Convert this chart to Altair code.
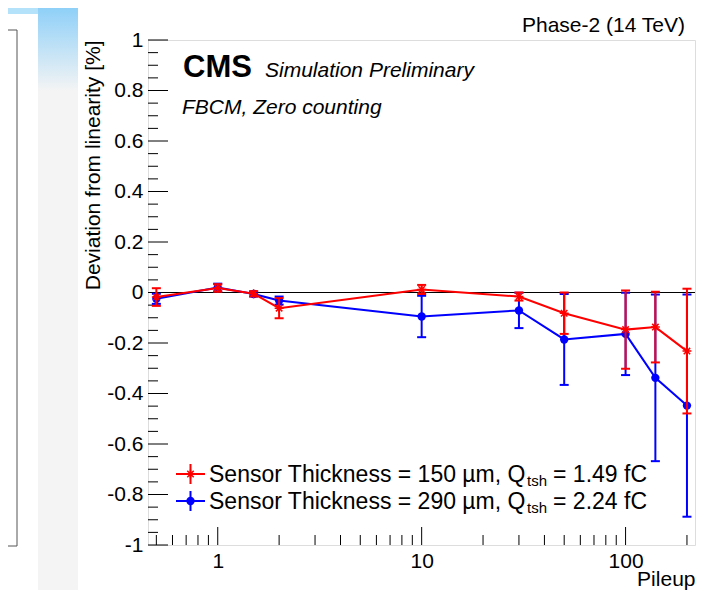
import altair as alt
import pandas as pd

# ---------------- data ----------------
pileup = [0.5, 1, 1.5, 2, 10, 30, 50, 100, 140, 200]
dev_150 = [-0.018, 0.018, -0.005, -0.062, 0.012, -0.016, -0.082, -0.147, -0.137, -0.232]
err_150 = [0.035, 0.015, 0.010, 0.040, 0.018, 0.016, 0.082, 0.155, 0.140, 0.247]
dev_290 = [-0.025, 0.020, -0.006, -0.032, -0.095, -0.071, -0.186, -0.164, -0.338, -0.448]
err_290 = [0.020, 0.015, 0.010, 0.016, 0.082, 0.070, 0.180, 0.163, 0.330, 0.440]

label_150 = "Sensor Thickness = 150 µm, Q"
label_290 = "Sensor Thickness = 290 µm, Q"
qval_150 = "= 1.49 fC"
qval_290 = "= 2.24 fC"

y_major = [-1, -0.8, -0.6, -0.4, -0.2, 0, 0.2, 0.4, 0.6, 0.8, 1]
y_minor = [-0.95, -0.9, -0.85, -0.75, -0.7, -0.65, -0.55, -0.5, -0.45, -0.35, -0.3, -0.25,
           -0.15, -0.1, -0.05, 0.05, 0.1, 0.15, 0.25, 0.3, 0.35, 0.45, 0.5, 0.55,
           0.65, 0.7, 0.75, 0.85, 0.9, 0.95]
x_major = [1, 10, 100]
x_minor = [0.5, 0.6, 0.7, 0.8, 0.9, 2, 3, 4, 5, 6, 7, 8, 9,
           20, 30, 40, 50, 60, 70, 80, 90, 200]

# ---------------- layout ----------------
W, H = 547, 505
FONT = "Liberation Sans"
RED = "#ff0000"
BLUE = "#0000ff"
STAR = "M-1,0L1,0M0,-1L0,1M-0.72,-0.72L0.72,0.72M-0.72,0.72L0.72,-0.72"

one = pd.DataFrame({"a": [0]})
xscale = alt.Scale(type="log", domain=[0.455, 219])
yscale = alt.Scale(domain=[-1, 1], nice=False)

xaxis = alt.Axis(values=x_major, labelExpr="'' + datum.value", ticks=False, tickSize=0,
                 domain=False, grid=False, labelFontSize=21, labelPadding=5,
                 labelColor="black", labelFont=FONT, labelFlush=False, labelOverlap=False,
                 title="Pileup", titleFont=FONT, titleFontSize=21, titleFontWeight="normal",
                 titleColor="black", titleAlign="right", titleBaseline="alphabetic",
                 titleX=W, titleY=40)
yaxis = alt.Axis(values=y_major, labelExpr="'' + datum.value", ticks=False, tickSize=0,
                 domain=False, grid=False, labelFontSize=21, labelPadding=5,
                 labelColor="black", labelFont=FONT, labelFlush=False, labelOverlap=False,
                 title="Deviation from linearity [%]", titleFont=FONT, titleFontSize=21,
                 titleFontWeight="normal", titleColor="black", titleAngle=-90,
                 titleAlign="right", titleBaseline="alphabetic", titleX=-49, titleY=0)


def X(field):
    return alt.X(field, type="quantitative", scale=xscale, axis=xaxis)


def Y(field):
    return alt.Y(field, type="quantitative", scale=yscale, axis=yaxis)


layers = []

# ---- slide background pieces (neighbouring panel / strip) ----
grad = alt.Gradient(gradient="linear", x1=0, y1=0, x2=0, y2=1,
                    stops=[alt.GradientStop(offset=0, color="#8fd0f8"),
                           alt.GradientStop(offset=0.14, color="#f4f4f4"),
                           alt.GradientStop(offset=1, color="#f4f4f4")])
layers.append(alt.Chart(one).mark_rect(fill=grad).encode(
    x=alt.value(-110), x2=alt.value(-70), y=alt.value(-32), y2=alt.value(560)))
layers.append(alt.Chart(one).mark_rect(color="#b5e2fb").encode(
    x=alt.value(-140), x2=alt.value(-110), y=alt.value(-32), y2=alt.value(-26)))
for (xa, xb, ya, yb) in [(-131, -131, -10, 506), (-140, -131, -10, -10), (-140, -131, 506, 506)]:
    layers.append(alt.Chart(one).mark_rule(color="#555555", strokeWidth=1).encode(
        x=alt.value(xa), x2=alt.value(xb), y=alt.value(ya), y2=alt.value(yb)))

# ---- frame ticks (inside, ROOT style) ----
layers.append(alt.Chart(pd.DataFrame({"v": y_major})).mark_rule(color="black", strokeWidth=1).encode(
    y=Y("v"), x=alt.value(0), x2=alt.value(20)))
layers.append(alt.Chart(pd.DataFrame({"v": y_minor})).mark_rule(color="black", strokeWidth=1).encode(
    y=Y("v"), x=alt.value(0), x2=alt.value(10)))
layers.append(alt.Chart(pd.DataFrame({"v": x_major})).mark_rule(color="black", strokeWidth=1).encode(
    x=X("v"), y=alt.value(H), y2=alt.value(H - 18)))
layers.append(alt.Chart(pd.DataFrame({"v": x_minor})).mark_rule(color="black", strokeWidth=1).encode(
    x=X("v"), y=alt.value(H), y2=alt.value(H - 10)))

# ---- zero line ----
layers.append(alt.Chart(pd.DataFrame({"v": [0]})).mark_rule(color="black", strokeWidth=1).encode(
    y=Y("v"), x=alt.value(0), x2=alt.value(W)))


def series(dev, err, color, shape, size, filled):
    df = pd.DataFrame({"pileup": pileup, "dev": dev, "err": err})
    df["lo"] = df["dev"] - df["err"]
    df["hi"] = df["dev"] + df["err"]
    base = alt.Chart(df)
    out = [
        base.mark_line(color=color, strokeWidth=2).encode(x=X("pileup"), y=Y("dev")),
        base.mark_rule(color=color, strokeWidth=2).encode(x=X("pileup"), y=Y("lo"), y2="hi"),
        base.mark_tick(color=color, orient="horizontal", size=9, thickness=2, opacity=1).encode(
            x=X("pileup"), y=Y("lo")),
        base.mark_tick(color=color, orient="horizontal", size=9, thickness=2, opacity=1).encode(
            x=X("pileup"), y=Y("hi")),
    ]
    if filled:
        out.append(base.mark_point(shape=shape, size=size, filled=True, color=color, opacity=1)
                   .encode(x=X("pileup"), y=Y("dev")))
    else:
        out.append(base.mark_point(shape=shape, size=size, filled=False, stroke=color,
                                   strokeWidth=1.5, opacity=1)
                   .encode(x=X("pileup"), y=Y("dev")))
    return out


layers += series(dev_290, err_290, BLUE, "circle", 70, True)
layers += series(dev_150, err_150, RED, STAR, 80, False)


# ---- texts ----
def text(s, x, y, size, align="left", weight="normal", style="normal", color="black"):
    return alt.Chart(one).mark_text(text=s, font=FONT, fontSize=size, align=align,
                                    baseline="alphabetic", fontWeight=weight,
                                    fontStyle=style, color=color).encode(
        x=alt.value(x), y=alt.value(y))


layers.append(text("Phase-2 (14 TeV)", 537, -8, 21, align="right"))
layers.append(text("CMS", 35, 37, 31, weight="bold"))
layers.append(text("Simulation Preliminary", 117, 37, 21, style="italic"))
layers.append(text("FBCM, Zero counting", 34, 74, 21, style="italic"))

# ---- legend ----
leg_rows = [(434, RED, STAR, False, label_150, qval_150),
            (461, BLUE, "circle", True, label_290, qval_290)]
for (yy, color, shape, filled, lab, qv) in leg_rows:
    layers.append(alt.Chart(one).mark_rule(color=color, strokeWidth=2).encode(
        x=alt.value(28), x2=alt.value(57), y=alt.value(yy), y2=alt.value(yy)))
    layers.append(alt.Chart(one).mark_rule(color=color, strokeWidth=2).encode(
        x=alt.value(42.5), x2=alt.value(42.5), y=alt.value(yy - 10), y2=alt.value(yy + 10)))
    if filled:
        layers.append(alt.Chart(one).mark_point(shape=shape, size=70, filled=True, color=color,
                                                opacity=1).encode(x=alt.value(42.5), y=alt.value(yy)))
    else:
        layers.append(alt.Chart(one).mark_point(shape=shape, size=80, filled=False, stroke=color,
                                                strokeWidth=1.5, opacity=1).encode(
            x=alt.value(42.5), y=alt.value(yy)))
    layers.append(text(lab, 61, yy + 8, 23))
    layers.append(text("tsh", 379, yy + 12, 15))
    layers.append(text(qv, 499, yy + 8, 23, align="right"))

chart = alt.layer(*layers).properties(
    width=W, height=H,
    autosize="none",
    padding={"left": 140, "top": 32, "right": 5, "bottom": 45},
    background="white",
).configure_view(stroke="black", strokeWidth=1).configure(font=FONT)

chart.save("out.html", embed_options={"renderer": "svg", "actions": False})
